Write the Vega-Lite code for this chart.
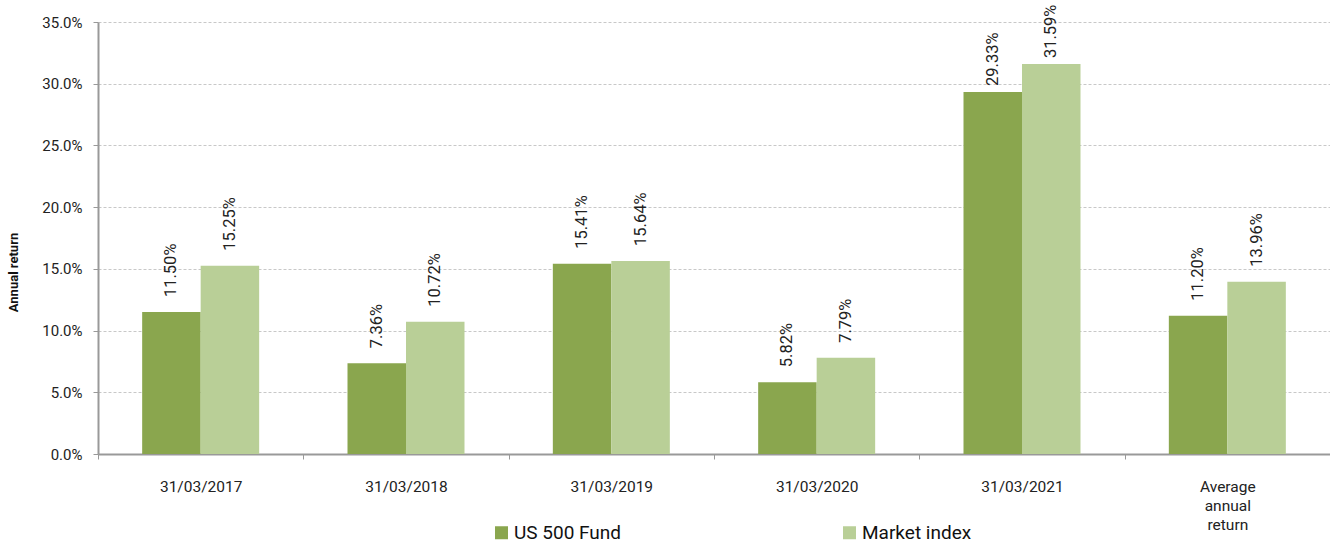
{
  "$schema": "https://vega.github.io/schema/vega-lite/v6.json",
  "width": 1232,
  "height": 432,
  "autosize": "none",
  "padding": {"left": 98, "top": 22, "right": 0, "bottom": 89},
  "background": "white",
  "config": {
    "font": "Roboto",
    "view": {"stroke": null},
    "axis": {"labelFont": "Roboto", "titleFont": "Roboto", "labelColor": "#222", "titleColor": "#111"}
  },
  "data": {
    "values": [
      {"period": "31/03/2017", "series": "US 500 Fund", "value": 0.1150},
      {"period": "31/03/2017", "series": "Market index", "value": 0.1525},
      {"period": "31/03/2018", "series": "US 500 Fund", "value": 0.0736},
      {"period": "31/03/2018", "series": "Market index", "value": 0.1072},
      {"period": "31/03/2019", "series": "US 500 Fund", "value": 0.1541},
      {"period": "31/03/2019", "series": "Market index", "value": 0.1564},
      {"period": "31/03/2020", "series": "US 500 Fund", "value": 0.0582},
      {"period": "31/03/2020", "series": "Market index", "value": 0.0779},
      {"period": "31/03/2021", "series": "US 500 Fund", "value": 0.2933},
      {"period": "31/03/2021", "series": "Market index", "value": 0.3159},
      {"period": "Average annual return", "series": "US 500 Fund", "value": 0.1120},
      {"period": "Average annual return", "series": "Market index", "value": 0.1396}
    ]
  },
  "encoding": {
    "x": {
      "field": "period", "type": "nominal", "sort": null,
      "scale": {"paddingInner": 0, "paddingOuter": 0},
      "axis": {
        "title": null, "labelAngle": 0, "labelFontSize": 15.5, "labelPadding": 20,
        "tickBand": "extent", "tickSize": 5, "tickColor": "#999", "domainColor": "#999", "domainWidth": 2,
        "labelLineHeight": 19, "labelBaseline": "top",
        "labelExpr": "datum.value == 'Average annual return' ? ['Average', 'annual', 'return'] : datum.value"
      }
    },
    "xOffset": {
      "field": "series", "type": "nominal", "sort": ["US 500 Fund", "Market index"],
      "scale": {"paddingInner": 0, "paddingOuter": 0.755}
    },
    "y": {
      "field": "value", "type": "quantitative",
      "scale": {"domain": [0, 0.35], "nice": false},
      "axis": {
        "title": "Annual return", "titleFontSize": 13, "titleFontWeight": "bold",
        "titleAngle": 270, "titleX": -84.5, "titleY": 250, "titleAlign": "center", "titleBaseline": "middle",
        "format": ".1%", "values": [0, 0.05, 0.1, 0.15, 0.2, 0.25, 0.3, 0.35],
        "labelFontSize": 15, "labelPadding": 11, "labelOverlap": false, "tickSize": 5, "tickColor": "#999",
        "domainColor": "#999", "domainWidth": 2,
        "grid": true, "gridDash": [3, 2], "gridColor": "#c8c8c8", "gridWidth": 1
      }
    }
  },
  "layer": [
    {
      "mark": {"type": "bar"},
      "encoding": {
        "color": {
          "field": "series", "type": "nominal", "sort": ["US 500 Fund", "Market index"],
          "scale": {"domain": ["US 500 Fund", "Market index"], "range": ["#8aa64e", "#b9cf97"]},
          "legend": {
            "title": null, "orient": "none", "direction": "horizontal",
            "legendX": 394, "legendY": 501,
            "symbolType": "square", "symbolSize": 169, "symbolStrokeWidth": 0, "symbolOpacity": 1,
            "labelFontSize": 19, "labelColor": "#111", "labelOffset": 3,
            "columnPadding": 218
          }
        }
      }
    },
    {
      "transform": [{"filter": "datum.period != '31/03/2021'"}],
      "mark": {"type": "text", "angle": 270, "align": "left", "baseline": "middle", "dx": 15, "fontSize": 16.5, "color": "#222"},
      "encoding": {
        "text": {"field": "value", "type": "quantitative", "format": ".2%"}
      }
    },
    {
      "transform": [{"filter": "datum.period == '31/03/2021'"}],
      "mark": {"type": "text", "angle": 270, "align": "left", "baseline": "middle", "dx": 6, "fontSize": 16.5, "color": "#222"},
      "encoding": {
        "text": {"field": "value", "type": "quantitative", "format": ".2%"}
      }
    }
  ]
}
